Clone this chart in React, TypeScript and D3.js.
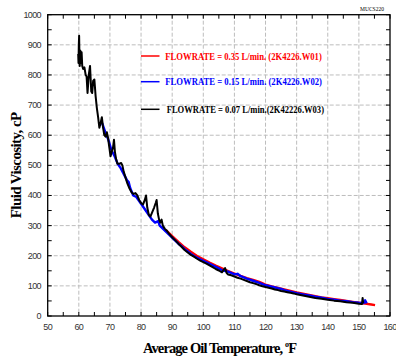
import React from "react";
import * as d3 from "d3";

const xTicks = [50, 60, 70, 80, 90, 100, 110, 120, 130, 140, 150, 160];
const yTicks = [0, 100, 200, 300, 400, 500, 600, 700, 800, 900, 1000];

const legendLabels = [
  "FLOWRATE = 0.35 L/min. (2K4226.W01)",
  "FLOWRATE = 0.15 L/min. (2K4226.W02)",
  "FLOWRATE = 0.07 L/min.(2K42226.W03)",
];
const seriesColors = ["#ff0000", "#0000ff", "#000000"];

// FLOWRATE = 0.35 (red)
const redT = [88, 90, 92, 94, 96, 98, 100, 102, 104, 106, 108, 110, 112, 114, 116, 118, 120, 122, 124, 126, 128, 130, 132, 134, 136, 138, 140, 142, 144, 146, 148, 150, 152, 154, 155.2];
const redV = [285, 265, 246, 228, 213, 199, 188, 177, 167, 158, 149, 141, 133, 126, 120, 113, 104, 98, 93, 88, 83, 78, 74, 70, 66, 62, 59, 56, 53, 50, 47, 44, 41, 38, 36];

// FLOWRATE = 0.15 (blue)
const blueT = [67.5, 68.5, 69.5, 70.5, 71.5, 72.5, 73.5, 74.5, 75.5, 76.0, 76.5, 77.5, 78.5, 79.5, 80.5, 81.5, 82.5, 83.5, 84.5, 85.5, 86.0, 87.0, 88.0, 89.0, 90.0, 91.0, 92.0, 93.0, 94.0, 95.0, 96.0, 97.0, 98.0, 99.0, 100.0, 102.0, 104.0, 105.0, 106.0, 108.0, 110.0, 111.0, 112.0, 114.0, 116.0, 118.0, 120.0, 122.0, 124.0, 125.0, 126.0, 128.0, 130.0, 132.0, 134.0, 136.0, 138.0, 140.0, 142.0, 144.0, 146.0, 148.0, 150.0, 151.5, 152.0, 152.5];
const blueV = [640, 610, 585, 550, 530, 505, 490, 470, 450, 445, 425, 400, 395, 380, 365, 350, 335, 320, 310, 315, 300, 290, 280, 270, 260, 250, 240, 232, 222, 214, 206, 199, 193, 188, 183, 173, 163, 158, 152, 147, 138, 140, 132, 124, 117, 110, 102, 97, 92, 90, 86, 81, 76, 72, 68, 64, 61, 57, 54, 51, 49, 46, 44, 43, 52, 42];

// FLOWRATE = 0.07 (black)
const blackT = [59.8, 59.9, 60.0, 60.1, 60.2, 60.3, 60.5, 60.7, 60.9, 61.1, 61.4, 61.8, 62.2, 62.5, 62.8, 63.2, 63.6, 64.0, 64.3, 64.6, 65.0, 65.4, 65.8, 66.2, 66.6, 67.0, 67.4, 67.8, 68.2, 68.6, 69.0, 69.4, 69.8, 70.2, 70.6, 71.0, 71.3, 71.6, 72.0, 72.4, 73.0, 73.6, 74.0, 74.4, 75.0, 75.6, 76.2, 77.0, 77.6, 78.2, 78.8, 79.4, 80.0, 80.6, 81.2, 81.6, 82.0, 82.5, 83.0, 83.6, 84.2, 84.7, 85.0, 85.4, 85.8, 86.2, 86.6, 87.0, 87.6, 88.2, 89.0, 89.6, 90.2, 91.0, 92.0, 93.0, 94.0, 95.0, 96.0, 97.0, 98.0, 99.0, 100.0, 101.0, 102.0, 103.0, 104.0, 105.0, 106.0, 106.5, 107.0, 107.5, 108.0, 109.0, 110.0, 111.0, 112.0, 113.0, 114.0, 115.0, 116.0, 117.0, 118.0, 119.0, 120.0, 121.0, 122.0, 123.0, 124.0, 125.0, 126.0, 127.0, 128.0, 129.0, 130.0, 132.0, 134.0, 136.0, 138.0, 140.0, 142.0, 144.0, 146.0, 148.0, 150.0, 151.0, 151.2, 151.4];
const blackV = [870, 840, 900, 930, 860, 830, 880, 840, 875, 830, 820, 825, 800, 795, 740, 800, 830, 745, 740, 780, 785, 730, 690, 660, 625, 640, 660, 625, 600, 595, 610, 590, 560, 530, 545, 560, 585, 545, 520, 505, 505, 508, 500, 480, 460, 440, 425, 410, 405, 408, 400, 385, 375, 370, 385, 400, 360, 335, 330, 345, 360, 375, 385, 340, 320, 310, 320, 300, 290, 284, 273, 266, 259, 251, 240, 230, 219, 211, 203, 197, 190, 184, 179, 174, 168, 162, 156, 151, 145, 152, 159, 143, 138, 135, 131, 127, 124, 120, 116, 112, 109, 106, 102, 99, 96, 94, 91, 88, 86, 83, 81, 79, 77, 75, 72, 68, 64, 60, 57, 54, 51, 49, 46, 44, 41, 40, 60, 42];

const W = 396;
const H = 360;
const L = 47.7;
const R = 390;
const T = 14.7;
const B = 316;

export default function App() {
  const x = d3.scaleLinear().domain([50, 160]).range([L, R]);
  const y = d3.scaleLinear().domain([0, 1000]).range([B, T]);
  const line = d3
    .line<[number, number]>()
    .x((d) => x(d[0]))
    .y((d) => y(d[1]));

  const series = [
    { t: redT, v: redV },
    { t: blueT, v: blueV },
    { t: blackT, v: blackV },
  ];

  const xMinor = d3.range(50, 161, 5);
  const yMinor = d3.range(0, 1001, 50);
  const sans = "'Liberation Sans', Arial, sans-serif";
  const serif = "'Liberation Serif', 'Times New Roman', serif";

  return (
    <svg
      width={W}
      height={H}
      style={{ position: "absolute", left: 0, top: 0, background: "#fff" }}
    >
      <rect x={0} y={0} width={W} height={H} fill="#fff" />
      {/* grid */}
      {xTicks.slice(1, -1).map((t) => (
        <line key={"gx" + t} x1={x(t)} x2={x(t)} y1={T} y2={B} stroke="#bdbdbd" strokeWidth={1} strokeDasharray="4,2" />
      ))}
      {yTicks.slice(1, -1).map((t) => (
        <line key={"gy" + t} x1={L} x2={R} y1={y(t)} y2={y(t)} stroke="#bdbdbd" strokeWidth={1} strokeDasharray="4,2" />
      ))}
      {/* data */}
      {series.map((s, i) => (
        <path
          key={"s" + i}
          d={line(s.t.map((t, j) => [t, s.v[j]]) as [number, number][]) || ""}
          fill="none"
          stroke={seriesColors[i]}
          strokeWidth={i === 2 ? 2 : 2.4}
          strokeLinejoin="round"
        />
      ))}
      {/* ticks */}
      {xMinor.map((t) => (
        <g key={"xt" + t}>
          <line x1={x(t)} x2={x(t)} y1={B} y2={B - 4} stroke="#000" strokeWidth={1} />
          <line x1={x(t)} x2={x(t)} y1={T} y2={T + 4} stroke="#000" strokeWidth={1} />
        </g>
      ))}
      {yMinor.map((t) => (
        <g key={"yt" + t}>
          <line x1={L} x2={L + 4} y1={y(t)} y2={y(t)} stroke="#000" strokeWidth={1} />
          <line x1={R} x2={R - 4} y1={y(t)} y2={y(t)} stroke="#000" strokeWidth={1} />
        </g>
      ))}
      {/* frame */}
      <rect x={L} y={T} width={R - L} height={B - T} fill="none" stroke="#000" strokeWidth={1.3} />
      {/* tick labels */}
      {xTicks.map((t) => (
        <text key={"xl" + t} x={x(t)} y={330} textAnchor="middle" fontFamily={sans} fontSize={9} fill="#333" letterSpacing={-0.6}>
          {t}
        </text>
      ))}
      {yTicks.map((t) => (
        <text key={"yl" + t} x={41} y={y(t) + 3} textAnchor="end" fontFamily={sans} fontSize={9} fill="#333" letterSpacing={-0.6}>
          {t}
        </text>
      ))}
      {/* axis titles */}
      <text
        transform={`translate(21,${(T + B) / 2}) rotate(-90)`}
        textAnchor="middle"
        fontFamily={serif}
        fontWeight="bold"
        fontSize={15}
        fill="#000"
        letterSpacing={-0.6}
      >
        Fluid Viscosity, cP
      </text>
      <text x={143} y={353} fontFamily={serif} fontWeight="bold" fontSize={14.5} fill="#000" letterSpacing={-0.9}>
        Average Oil Temperature,{" "}
        <tspan fontSize={8} dy={-6}>o</tspan>
        <tspan dy={6}>F</tspan>
      </text>
      {/* legend */}
      {legendLabels.map((lab, i) => {
        const ly = [56, 81.7, 109.3][i];
        return (
          <g key={"lg" + i}>
            <line x1={141} x2={159.5} y1={ly} y2={ly} stroke={seriesColors[i]} strokeWidth={1.5} />
            <text
              x={[165.3, 165.3, 166.7][i]}
              y={ly + 3.5}
              fontFamily={serif}
              fontWeight="bold"
              fontSize={10.5}
              fill={seriesColors[i]}
              textLength={[156.5, 156.7, 157.3][i]}
              lengthAdjust="spacingAndGlyphs"
            >
              {lab}
            </text>
          </g>
        );
      })}
      <text x={360} y={11} fontFamily={serif} fontSize={6} fill="#000" textLength={24} lengthAdjust="spacingAndGlyphs">
        MUCS220
      </text>
    </svg>
  );
}
